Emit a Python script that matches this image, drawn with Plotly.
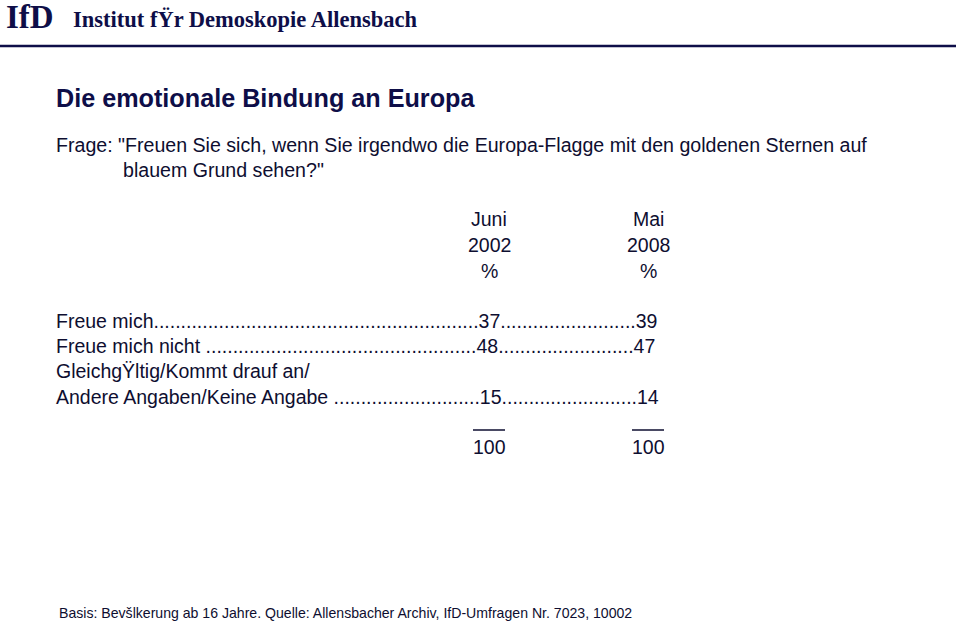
import plotly.graph_objects as go

# ---------------- data ----------------
header_logo = "IfD"
header_name = "Institut fŸr Demoskopie Allensbach"
title = "Die emotionale Bindung an Europa"
question_lines = ['Frage: "Freuen Sie sich, wenn Sie irgendwo die Europa-Flagge mit den goldenen Sternen auf',
                  'blauem Grund sehen?"']
col_months = ["Juni", "Mai"]
col_years = ["2002", "2008"]
col_unit = ["%", "%"]
categories = ["Freue mich", "Freue mich nicht", "GleichgŸltig/Kommt drauf an/\nAndere Angaben/Keine Angabe"]
juni_2002 = [37, 48, 15]
mai_2008 = [39, 47, 14]
totals = [100, 100]
footer = "Basis: Bevšlkerung ab 16 Jahre. Quelle: Allensbacher Archiv, IfD-Umfragen Nr. 7023, 10002"

# ---------------- layout helpers ----------------
W, H = 960, 626
def px(x): return x / W
def py(y): return 1 - y / H

NAVY = "#0e0e48"
TXT = "#0e0e30"
SANS = "Liberation Sans, Arial, sans-serif"
SERIF = "Liberation Serif, Times New Roman, serif"
BODY = 19.5
LEADER_DOTS = [60, 50, 27]   # dot leaders after each label (typographic filler)
MID_DOTS = 25

fig = go.Figure()
fig.add_trace(go.Scatter(x=[None], y=[None], showlegend=False, hoverinfo="skip"))

ann = []
def text(x, y, s, size=BODY, color=TXT, family=SANS, anchor="left"):
    ann.append(dict(x=px(x), y=py(y), xref="paper", yref="paper", text=s, showarrow=False,
                    xanchor=anchor, yanchor="middle", font=dict(size=size, color=color, family=family),
                    borderpad=0, borderwidth=0))

# header
text(6, 17, "<b>" + header_logo + "</b>", size=33, color=NAVY, family=SERIF)
text(73, 19, "<b>" + header_name + "</b>", size=22.5, color=NAVY, family=SERIF)

# title / question
text(56, 98, "<b>" + title + "</b>", size=25.2, color=NAVY)
text(56, 145, question_lines[0], size=19.6)
text(123, 170, question_lines[1], size=19.6)

# column headers
col_x = [489, 648]
for i, cx in enumerate(col_x):
    text(cx, 219, col_months[i], anchor="center")
    text(cx, 245, col_years[i], anchor="center")
    text(cx, 271, col_unit[i], anchor="center")

# rows
row_y = [321, 346, 397]
for i, cat in enumerate(categories):
    lines = cat.split("\n")
    y = row_y[i]
    if len(lines) > 1:
        text(56, y - 26, lines[0])
    label = lines[-1] + (" " if i > 0 else "")
    s = label + "." * LEADER_DOTS[i] + str(juni_2002[i]) + "." * MID_DOTS + str(mai_2008[i])
    text(56, y, s.replace(" .", "\u00a0."))

# totals
shapes = []
for i, cx in enumerate(col_x):
    shapes.append(dict(type="line", xref="paper", yref="paper",
                       x0=px(cx - 16), x1=px(cx + 16), y0=py(430), y1=py(430),
                       line=dict(color=TXT, width=1.5)))
    text(cx, 447, str(totals[i]), anchor="center")

# header rule
shapes.append(dict(type="line", xref="paper", yref="paper", x0=0, x1=px(956), y0=py(46), y1=py(46),
                   line=dict(color=NAVY, width=2.5)))

# footer
text(59, 613, footer, size=14.1)

fig.update_layout(
    width=W, height=H, margin=dict(l=0, r=0, t=0, b=0),
    paper_bgcolor="white", plot_bgcolor="white",
    xaxis=dict(visible=False, range=[0, 1]), yaxis=dict(visible=False, range=[0, 1]),
    annotations=ann, shapes=shapes, showlegend=False,
)
fig.write_html("out.html", config={"displayModeBar": False},
               post_script="document.body.style.margin='0px';")
